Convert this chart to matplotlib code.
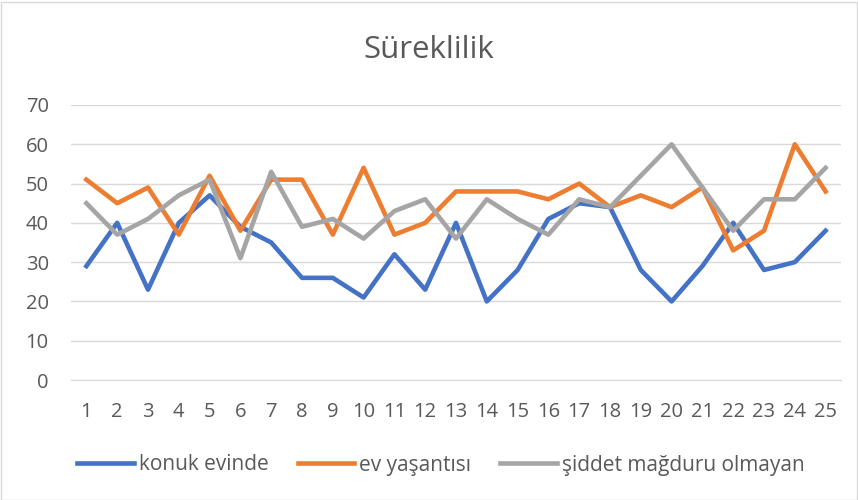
import matplotlib
matplotlib.use('Agg')
import matplotlib.pyplot as plt
from matplotlib.patches import Rectangle

plt.rcParams['font.family'] = ['Open Sans', 'DejaVu Sans']

days = list(range(1, 26))
konuk_evinde = [29, 40, 23, 40, 47, 39, 35, 26, 26, 21, 32, 23, 40, 20, 28, 41, 45, 44, 28, 20, 29, 40, 28, 30, 38]
ev_yasantisi = [51, 45, 49, 37, 52, 38, 51, 51, 37, 54, 37, 40, 48, 48, 48, 46, 50, 44, 47, 44, 49, 33, 38, 60, 48]
siddet_yok = [45, 37, 41, 47, 51, 31, 53, 39, 41, 36, 43, 46, 36, 46, 41, 37, 46, 44, 52, 60, 49, 38, 46, 46, 54]

fig = plt.figure(figsize=(8.58, 5.0), dpi=100)
ax = fig.add_axes([71 / 858, 1 - 380 / 500, 770 / 858, 275 / 500])

ax.plot(days, konuk_evinde, color='#4472C4', lw=3.3, label='konuk evinde', solid_joinstyle='round')
ax.plot(days, ev_yasantisi, color='#ED7D31', lw=3.3, label='ev yaşantısı', solid_joinstyle='round')
ax.plot(days, siddet_yok, color='#A5A5A5', lw=3.3, label='şiddet mağduru olmayan', solid_joinstyle='round')

ax.set_xlim(0.5, 25.5)
ax.set_ylim(0, 70)
ax.set_yticks(range(0, 71, 10))
ax.set_xticks(days)
ax.grid(axis='y', color='#D9D9D9', lw=1)
ax.set_axisbelow(True)
for s in ['top', 'right', 'left']:
    ax.spines[s].set_visible(False)
ax.spines['bottom'].set_color('#D9D9D9')
ax.tick_params(length=0, labelsize=14.5, colors='#595959')
ax.tick_params(axis='x', pad=16)
ax.tick_params(axis='y', pad=16)

fig.text(0.5, 1 - 50 / 500, 'Süreklilik', ha='center', va='center', fontsize=22.5, color='#595959')

fig.legend(loc='center', bbox_to_anchor=(441 / 858, 1 - 465 / 500), ncol=3, frameon=False,
           fontsize=15, labelcolor='#595959', handlelength=2.7, columnspacing=1.4, handletextpad=0.25)

fig.patches.append(Rectangle((0.5 / 858, 0.5 / 500), 856 / 858, 498 / 500, transform=fig.transFigure,
                             fill=False, edgecolor='#D9D9D9', lw=1))

fig.savefig('out.png', dpi=100)
